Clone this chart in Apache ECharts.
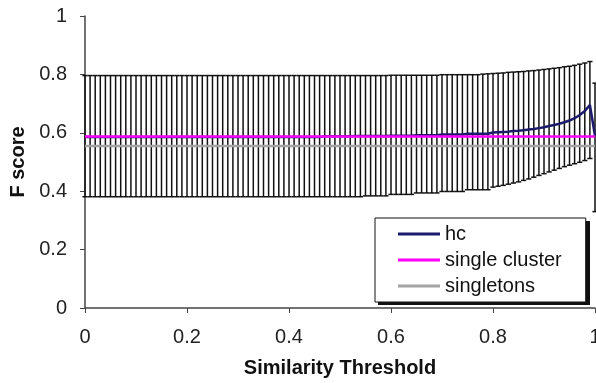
<!DOCTYPE html>
<html>
<head>
<meta charset="utf-8">
<script src="https://cdn.jsdelivr.net/npm/echarts@6/dist/echarts.min.js"></script>
<style>
  html, body { margin: 0; padding: 0; background: #fff; }
  #chart { width: 596px; height: 383px; }
</style>
</head>
<body>
<div id="chart"></div>
<script>
// similarity thresholds (x)
const thresholds = [
  0, 0.01, 0.02, 0.03, 0.04, 0.05, 0.06, 0.07, 0.08, 0.09,
  0.1, 0.11, 0.12, 0.13, 0.14, 0.15, 0.16, 0.17, 0.18, 0.19,
  0.2, 0.21, 0.22, 0.23, 0.24, 0.25, 0.26, 0.27, 0.28, 0.29,
  0.3, 0.31, 0.32, 0.33, 0.34, 0.35, 0.36, 0.37, 0.38, 0.39,
  0.4, 0.41, 0.42, 0.43, 0.44, 0.45, 0.46, 0.47, 0.48, 0.49,
  0.5, 0.51, 0.52, 0.53, 0.54, 0.55, 0.56, 0.57, 0.58, 0.59,
  0.6, 0.61, 0.62, 0.63, 0.64, 0.65, 0.66, 0.67, 0.68, 0.69,
  0.7, 0.71, 0.72, 0.73, 0.74, 0.75, 0.76, 0.77, 0.78, 0.79,
  0.8, 0.81, 0.82, 0.83, 0.84, 0.85, 0.86, 0.87, 0.88, 0.89,
  0.9, 0.91, 0.92, 0.93, 0.94, 0.95, 0.96, 0.97, 0.98, 0.99,
  1
];

// hc mean F score
const hcMean = [
  0.586, 0.586, 0.586, 0.586, 0.586, 0.586, 0.586, 0.586, 0.586, 0.586,
  0.586, 0.586, 0.586, 0.586, 0.586, 0.586, 0.586, 0.586, 0.586, 0.586,
  0.586, 0.586, 0.586, 0.586, 0.586, 0.586, 0.586, 0.586, 0.586, 0.586,
  0.586, 0.586, 0.586, 0.586, 0.586, 0.586, 0.586, 0.586, 0.586, 0.586,
  0.586, 0.586, 0.586, 0.586, 0.586, 0.586, 0.586, 0.588, 0.588, 0.588,
  0.588, 0.588, 0.588, 0.589, 0.589, 0.589, 0.589, 0.589, 0.589, 0.589,
  0.590, 0.590, 0.590, 0.590, 0.590, 0.592, 0.592, 0.592, 0.592, 0.592,
  0.594, 0.594, 0.594, 0.594, 0.594, 0.597, 0.597, 0.597, 0.597, 0.597,
  0.601, 0.602, 0.603, 0.604, 0.606, 0.607, 0.609, 0.611, 0.613, 0.616,
  0.619, 0.623, 0.627, 0.631, 0.636, 0.642, 0.650, 0.661, 0.675, 0.695,
  0.590
];

// error bar upper ends
const hcUpper = [
  0.796, 0.796, 0.796, 0.796, 0.796, 0.796, 0.796, 0.796, 0.796, 0.796,
  0.796, 0.796, 0.796, 0.796, 0.796, 0.796, 0.796, 0.796, 0.796, 0.796,
  0.796, 0.796, 0.796, 0.796, 0.796, 0.796, 0.796, 0.796, 0.796, 0.796,
  0.796, 0.796, 0.796, 0.796, 0.796, 0.796, 0.796, 0.796, 0.796, 0.796,
  0.796, 0.796, 0.796, 0.796, 0.796, 0.796, 0.796, 0.796, 0.796, 0.796,
  0.796, 0.796, 0.796, 0.796, 0.796, 0.796, 0.796, 0.796, 0.796, 0.796,
  0.797, 0.797, 0.797, 0.797, 0.797, 0.797, 0.797, 0.797, 0.797, 0.797,
  0.799, 0.799, 0.799, 0.799, 0.799, 0.799, 0.799, 0.799, 0.801, 0.802,
  0.803, 0.804, 0.805, 0.807, 0.808, 0.809, 0.810, 0.812, 0.813, 0.815,
  0.817, 0.819, 0.821, 0.823, 0.826, 0.828, 0.831, 0.835, 0.839, 0.844,
  0.770
];

// error bar lower ends
const hcLower = [
  0.381, 0.381, 0.381, 0.381, 0.381, 0.381, 0.381, 0.381, 0.381, 0.381,
  0.381, 0.381, 0.381, 0.381, 0.381, 0.381, 0.381, 0.381, 0.381, 0.381,
  0.381, 0.381, 0.381, 0.381, 0.381, 0.381, 0.381, 0.381, 0.381, 0.381,
  0.381, 0.381, 0.381, 0.381, 0.381, 0.381, 0.381, 0.381, 0.381, 0.381,
  0.381, 0.381, 0.381, 0.381, 0.381, 0.381, 0.381, 0.381, 0.381, 0.381,
  0.381, 0.381, 0.381, 0.381, 0.381, 0.384, 0.384, 0.384, 0.384, 0.384,
  0.389, 0.389, 0.389, 0.389, 0.389, 0.394, 0.394, 0.394, 0.394, 0.394,
  0.399, 0.399, 0.399, 0.399, 0.399, 0.405, 0.405, 0.405, 0.405, 0.405,
  0.414, 0.417, 0.420, 0.424, 0.428, 0.432, 0.437, 0.442, 0.448, 0.454,
  0.460, 0.466, 0.472, 0.478, 0.484, 0.489, 0.494, 0.499, 0.505, 0.512,
  0.330
];

const singleClusterScore = 0.587;
const singletonsScore = 0.555;
const xRange = [0, 1];

const FONT = "'Liberation Sans', Arial, sans-serif";

const chart = echarts.init(document.getElementById('chart'));

chart.setOption({
  animation: false,
  backgroundColor: '#fff',
  textStyle: { fontFamily: FONT },
  grid: { left: 85, right: 1, top: 16, bottom: 75, outerBoundsMode: 'none', containLabel: false },
  // drop shadow behind the legend box
  graphic: [{
    type: 'rect',
    left: 378,
    top: 221,
    shape: { width: 212, height: 84 },
    style: { fill: '#111' },
    z: 50
  }],
  legend: {
    orient: 'vertical',
    left: 375,
    top: 218,
    padding: [6, 24, 6, 23],
    itemWidth: 42,
    itemHeight: 3,
    itemGap: 6,
    icon: 'rect',
    backgroundColor: '#fff',
    borderColor: '#111',
    borderWidth: 1,
    z: 60,
    textStyle: { fontFamily: FONT, fontSize: 20, color: '#111' },
    data: ['hc', 'single cluster', 'singletons']
  },
  xAxis: {
    type: 'value',
    min: 0,
    max: 1,
    interval: 0.2,
    name: 'Similarity Threshold',
    nameLocation: 'middle',
    nameGap: 50,
    nameTextStyle: { fontFamily: FONT, fontSize: 20, fontWeight: 'bold', color: '#111' },
    axisLine: { lineStyle: { color: '#444', width: 1.5 } },
    axisTick: { show: true, length: 5, lineStyle: { color: '#444' } },
    axisLabel: { fontFamily: FONT, fontSize: 20, color: '#222', margin: 19 },
    splitLine: { show: false }
  },
  yAxis: {
    type: 'value',
    min: 0,
    max: 1,
    interval: 0.2,
    name: 'F score',
    nameLocation: 'middle',
    nameRotate: 90,
    nameGap: 55,
    nameTextStyle: { fontFamily: FONT, fontSize: 20, fontWeight: 'bold', color: '#111' },
    axisLine: { show: true, lineStyle: { color: '#444', width: 1.5 } },
    axisTick: { show: true, length: 5, lineStyle: { color: '#444' } },
    axisLabel: { fontFamily: FONT, fontSize: 20, color: '#222', margin: 18 },
    splitLine: { show: false }
  },
  series: [
    {
      name: 'errors',
      type: 'custom',
      data: thresholds.map((t, i) => [t, hcLower[i], hcUpper[i]]),
      renderItem: function (params, api) {
        const lo = api.coord([api.value(0), api.value(1)]);
        const hi = api.coord([api.value(0), api.value(2)]);
        const hw = 2.6;
        const style = { stroke: '#111', lineWidth: 1.5 };
        return {
          type: 'group',
          children: [
            { type: 'line', shape: { x1: lo[0], y1: lo[1], x2: hi[0], y2: hi[1] }, style: style },
            { type: 'line', shape: { x1: hi[0] - hw, y1: hi[1], x2: hi[0] + hw, y2: hi[1] }, style: style },
            { type: 'line', shape: { x1: lo[0] - hw, y1: lo[1], x2: lo[0] + hw, y2: lo[1] }, style: style }
          ]
        };
      },
      z: 1
    },
    {
      name: 'hc',
      type: 'line',
      data: thresholds.map((t, i) => [t, hcMean[i]]),
      showSymbol: false,
      symbol: 'none',
      lineStyle: { color: '#1c1a6b', width: 2.5 },
      itemStyle: { color: '#1c1a6b' },
      z: 2
    },
    {
      name: 'singletons',
      type: 'line',
      data: xRange.map(t => [t, singletonsScore]),
      showSymbol: false,
      symbol: 'none',
      lineStyle: { color: '#a3a3a3', width: 2.5 },
      itemStyle: { color: '#a3a3a3' },
      z: 3
    },
    {
      name: 'single cluster',
      type: 'line',
      data: xRange.map(t => [t, singleClusterScore]),
      showSymbol: false,
      symbol: 'none',
      lineStyle: { color: '#ff00ff', width: 2.5 },
      itemStyle: { color: '#ff00ff' },
      z: 4
    }
  ]
});
</script>
</body>
</html>
